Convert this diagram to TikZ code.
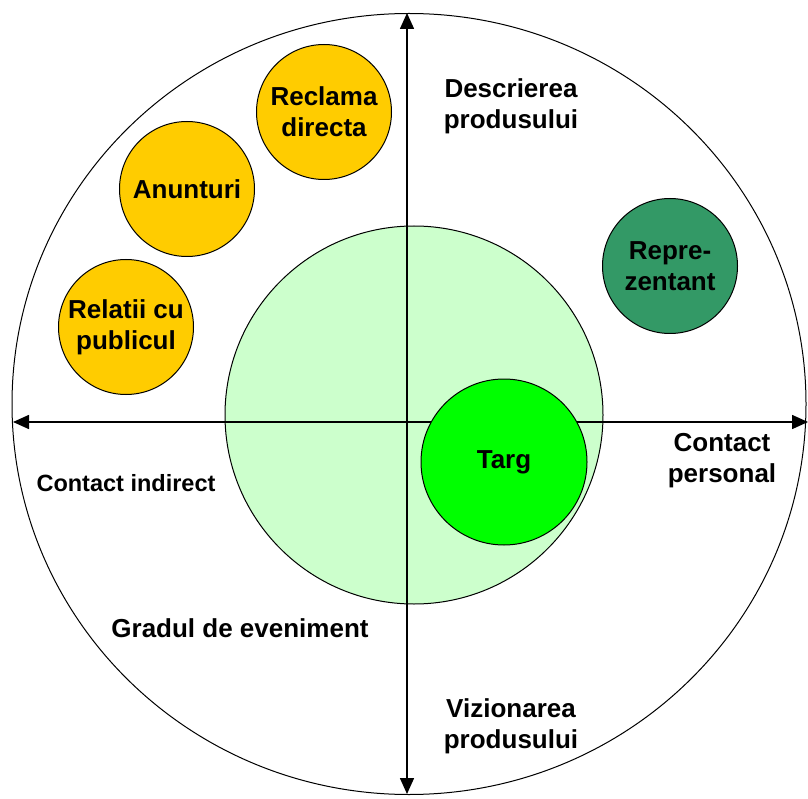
\documentclass[tikz,border=0pt]{standalone}
\usepackage{fontspec}
\setmainfont{Liberation Sans}
\usepackage{xcolor}
\usepackage{tikz}
\usetikzlibrary{arrows.meta,shapes.geometric}
\definecolor{bubble-yellow}{HTML}{FFCC00}
\definecolor{bubble-darkgreen}{HTML}{339966}
\definecolor{bubble-green}{HTML}{00FF00}
\definecolor{zone-green}{HTML}{CCFFCC}
\tikzset{
    bubble/.style = {draw=black, circle, line width=1pt, inner sep=0pt, align=center, font=\bfseries\fontsize{26}{31}\selectfont},
    small-bubble/.style = {bubble, minimum size=135pt},
    axis-label/.style = {align=center, font=\bfseries\fontsize{26}{31}\selectfont},
    axis/.style = {line width=1.6pt, {Triangle[length=16pt,width=14pt]}-{Triangle[length=16pt,width=14pt]}},
}

\begin{document}
\begin{tikzpicture}[x=1pt, y=-1pt]
\useasboundingbox (0,0) rectangle (808,799);
\node [draw=black, ellipse, line width=1pt, minimum width=794pt, minimum height=781pt, inner sep=0pt] (outer) at (409,404) {};
\node [bubble, fill=zone-green, minimum size=378pt] (zone) at (414,415) {};

% axes
\coordinate (west-end) at (13,422);
\coordinate (east-end) at (808,422);
\coordinate (north-end) at (407,13);
\coordinate (south-end) at (407,794);
\draw [axis] (west-end) -- (east-end);
\draw [axis] (north-end) -- (south-end);

\node [small-bubble, fill=bubble-yellow] (reclama) at (324,112) {Reclama\\directa};
\node [small-bubble, fill=bubble-yellow] (anunturi) at (187,189) {Anunturi};
\node [small-bubble, fill=bubble-yellow] (relatii) at (126,327) {Relatii cu\\publicul};
\node [small-bubble, fill=bubble-darkgreen] (repr) at (670,266) {Repre-\\zentant};
\node [bubble, fill=bubble-green, minimum size=166pt] (targ) at (504,462) {Targ};

\node [axis-label] (descriere) at (511,106) {Descrierea\\produsului};
\node [axis-label] (vizionare) at (511,726) {Vizionarea\\produsului};
\node [axis-label] (personal) at (722,461) {Contact\\personal};
\node [axis-label, font=\bfseries\fontsize{23.5}{28}\selectfont] (indirect) at (126,483) {Contact indirect};
\node [axis-label] (grad) at (240,628) {Gradul de eveniment};
\end{tikzpicture}
\end{document}
